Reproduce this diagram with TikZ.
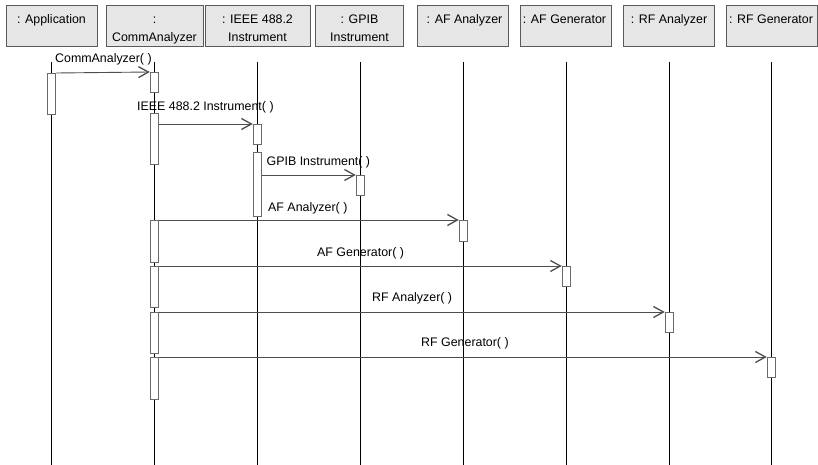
\documentclass[tikz,border=0pt]{standalone}
\usepackage{fontspec}
\setmainfont{Liberation Sans}
\usetikzlibrary{arrows.meta}

\definecolor{headfill}{HTML}{E6E6E6}
\definecolor{headline}{HTML}{5A5A5A}
\definecolor{actline}{HTML}{6A6A6A}
\definecolor{msgline}{HTML}{4D4D4D}

\tikzset{
  headbox/.style={draw=headline, fill=headfill, line width=0.9pt, inner sep=0pt,
    minimum height=41pt},
  headtxt/.style={anchor=north, inner sep=0pt, align=center,
    font=\fontsize{12.4}{17.5}\selectfont},
  lifeline/.style={draw=black, line width=0.8pt},
  act/.style={draw=actline, fill=white, line width=1pt, inner sep=0pt,
    minimum width=8.5pt, anchor=north},
  msg/.style={draw=msgline, line width=0.9pt,
    -{Straight Barb[length=10pt,width=11pt,line width=1.3pt]}},
  msgtxt/.style={anchor=base west, inner sep=0pt,
    font=\fontsize{12.4}{15}\selectfont},
}

\begin{document}
\begin{tikzpicture}[x=1pt, y=-1pt]
\useasboundingbox (0,0) rectangle (818,465);

% object heads
\node[headbox, minimum width=91pt]  (app) at (51.5,25.5)  {};
\node[headbox, minimum width=97pt]  (ca)  at (154.5,25.5) {};
\node[headbox, minimum width=105pt] (ie)  at (257.5,25.5) {};
\node[headbox, minimum width=88pt]  (gp)  at (359,25.5)   {};
\node[headbox, minimum width=91pt]  (af)  at (462.5,25.5) {};
\node[headbox, minimum width=91pt]  (ag)  at (565.5,25.5) {};
\node[headbox, minimum width=91pt]  (ra)  at (668.5,25.5) {};
\node[headbox, minimum width=91pt]  (rg)  at (771.5,25.5) {};

\node[headtxt] (app-t) at (51.5,11.5)  {\strut: Application};
\node[headtxt] (ca-t)  at (154.5,11.5) {\strut:\\CommAnalyzer};
\node[headtxt] (ie-t)  at (257.5,11.5) {\strut: IEEE 488.2\\Instrument};
\node[headtxt] (gp-t)  at (359.5,11.5) {\strut: GPIB\\Instrument};
\node[headtxt] (af-t)  at (464.5,11.5) {\strut: AF Analyzer};
\node[headtxt] (ag-t)  at (564.5,11.5) {\strut: AF Generator};
\node[headtxt] (ra-t)  at (669,11.5)   {\strut: RF Analyzer};
\node[headtxt] (rg-t)  at (771,11.5)   {\strut: RF Generator};

% lifelines
\foreach \n/\x in {app/51.5, ca/154.5, ie/257.5, gp/360.5, af/463.5, ag/566.5, ra/669.5, rg/771.5} {
  \coordinate (\n-top) at (\x,62);
  \coordinate (\n-bot) at (\x,465);
  \draw[lifeline] (\n-top) -- (\n-bot);
}

% activations
\node[act, minimum height=41pt] (app-a) at (51.5,73)  {};
\node[act, minimum height=20pt] (ca-a1) at (154.5,72) {};
\node[act, minimum height=51pt] (ca-a2) at (154.5,113) {};
\node[act, minimum height=20pt] (ie-a1) at (257.5,124) {};
\node[act, minimum height=64pt] (ie-a2) at (257.5,152) {};
\node[act, minimum height=20pt] (gp-a)  at (360.5,175) {};
\node[act, minimum height=42pt] (ca-a3) at (154.5,220) {};
\node[act, minimum height=41pt] (ca-a4) at (154.5,266) {};
\node[act, minimum height=41pt] (ca-a5) at (154.5,312) {};
\node[act, minimum height=42pt] (ca-a6) at (154.5,357) {};
\node[act, minimum height=21pt] (af-a)  at (463.5,220) {};
\node[act, minimum height=20pt] (ag-a)  at (566.5,266) {};
\node[act, minimum height=20pt] (ra-a)  at (669.5,312) {};
\node[act, minimum height=20pt] (rg-a)  at (771.5,357) {};

% messages
\draw[msg] (app-a.north east) -- (ca-a1.north west);
\draw[msg] (ca-a2.east |- ie-a1.north) -- (ie-a1.north west);
\draw[msg] (ie-a2.east |- gp-a.north) -- (gp-a.north west);
\draw[msg] (ca-a3.north east) -- (af-a.north west);
\draw[msg] (ca-a4.north east) -- (ag-a.north west);
\draw[msg] (ca-a5.north east) -- (ra-a.north west);
\draw[msg] (ca-a6.north east) -- (rg-a.north west);

% message labels
\node[msgtxt] (m1) at (55,63)     {CommAnalyzer( )};
\node[msgtxt] (m2) at (137,111)   {IEEE 488.2 Instrument( )};
\node[msgtxt] (m3) at (266.5,166) {GPIB Instrument( )};
\node[msgtxt] (m4) at (268,211)   {AF Analyzer( )};
\node[msgtxt] (m5) at (317,256.5) {AF Generator( )};
\node[msgtxt] (m6) at (372,301.5) {RF Analyzer( )};
\node[msgtxt] (m7) at (421,346.5) {RF Generator( )};
\end{tikzpicture}
\end{document}
